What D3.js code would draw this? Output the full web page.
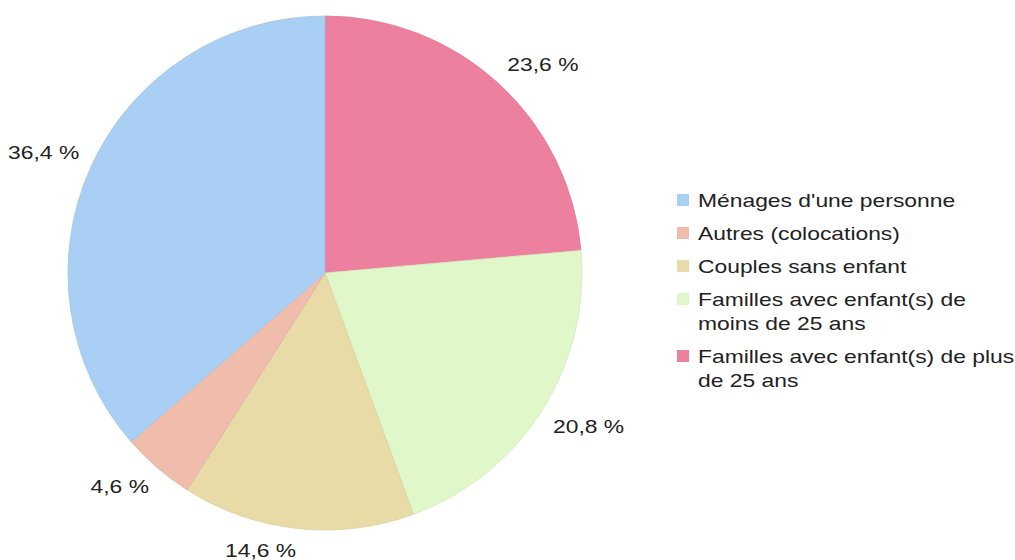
<!DOCTYPE html>
<html>
<head>
<meta charset="utf-8">
<script src="https://cdn.jsdelivr.net/npm/d3@7"></script>
<style>
  body { margin: 0; background: #fff; }
  svg { display: block; font-family: "Liberation Sans", Arial, sans-serif; }
</style>
</head>
<body>
<svg id="chart" width="1015" height="560"></svg>
<script>
// slices, clockwise from 12 o'clock
const sliceNames = [
  "Familles avec enfant(s) de plus de 25 ans",
  "Familles avec enfant(s) de moins de 25 ans",
  "Couples sans enfant",
  "Autres (colocations)",
  "Ménages d'une personne"
];
const sliceValues = [23.6, 20.8, 14.6, 4.6, 36.4];
const sliceLabels = ["23,6 %", "20,8 %", "14,6 %", "4,6 %", "36,4 %"];
const sliceColors = ["#ec809e", "#e0f8c9", "#e8dba8", "#f0bcab", "#aacff5"];

// legend order and line wrapping
const legendOrder = [4, 3, 2, 1, 0];
const legendLines = [
  ["Ménages d'une personne"],
  ["Autres (colocations)"],
  ["Couples sans enfant"],
  ["Familles avec enfant(s) de", "moins de 25 ans"],
  ["Familles avec enfant(s) de plus", "de 25 ans"]
];

const svg = d3.select("#chart");
const cx = 325, cy = 273, R = 257;
const stretch = 1.27; // text in the picture is drawn wide

const pie = d3.pie().sort(null).value(d => d)(sliceValues);
const arc = d3.arc().innerRadius(0).outerRadius(R);

const g = svg.append("g").attr("transform", `translate(${cx},${cy})`);

g.selectAll("path")
  .data(pie)
  .enter()
  .append("path")
  .attr("d", arc)
  .attr("fill", (d, i) => sliceColors[i])
  .attr("stroke", (d, i) => d3.color(sliceColors[i]).darker(0.15))
  .attr("stroke-width", 0.8);

// labels: the box corner nearest the pie sits just outside the rim
const labelR = R + 13, labelH = 18;
pie.forEach((d, i) => {
  const a = (d.startAngle + d.endAngle) / 2;
  const ax = Math.sin(a) * labelR, ay = -Math.cos(a) * labelR;
  const t = g.append("text")
    .attr("text-anchor", "middle")
    .attr("dominant-baseline", "central")
    .style("font-size", "18px")
    .style("fill", "#222")
    .text(sliceLabels[i]);
  const w = t.node().getComputedTextLength() * stretch;
  const sx = Math.abs(Math.sin(a)) < 0.05 ? 0 : Math.sign(Math.sin(a));
  const sy = Math.sign(-Math.cos(a));
  t.attr("transform", `translate(${ax + sx * w / 2},${ay + sy * labelH / 2}) scale(${stretch},1)`);
});

// legend
const legend = svg.append("g").attr("transform", "translate(677,200)");
let yPos = 0;
legendOrder.forEach((si, k) => {
  const item = legend.append("g").attr("transform", `translate(0,${yPos})`);
  item.append("rect")
    .attr("x", 0).attr("y", -6)
    .attr("width", 12).attr("height", 12)
    .attr("fill", sliceColors[si]);
  legendLines[k].forEach((line, j) => {
    item.append("text")
      .attr("transform", `translate(21,${j * 24}) scale(${stretch},1)`)
      .attr("dominant-baseline", "central")
      .style("font-size", "18px")
      .style("fill", "#222")
      .text(line);
  });
  yPos += 33 + (legendLines[k].length - 1) * 24;
});
</script>
</body>
</html>
